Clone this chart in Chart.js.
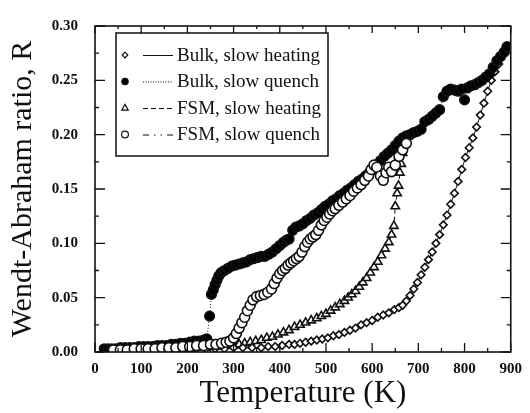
<!DOCTYPE html>
<html>
<head>
<meta charset="utf-8">
<script src="https://cdn.jsdelivr.net/npm/chart.js@4/dist/chart.umd.min.js"></script>
<style>
  html, body { margin: 0; padding: 0; background: #fff; }
</style>
</head>
<body>
<canvas id="grafico" width="530" height="413"></canvas>
<script>
// Bulk, slow heating (open diamonds, solid line)
const bulkHeatT = [60, 80, 100, 120, 140, 160, 180, 200, 220, 240, 260, 280, 300, 320, 340, 360, 375, 390, 405, 420, 432, 444, 456, 468, 480, 492, 504, 516, 528, 540, 552, 564, 576, 588, 600, 612, 624, 636, 648, 658, 666, 674, 682, 690, 698, 706, 714, 722, 730, 738, 746, 754, 762, 770, 778, 786, 794, 802, 810, 818, 826, 834, 842, 850, 858, 866, 874, 882, 890];
const bulkHeatR = [0.002, 0.002, 0.002, 0.002, 0.002, 0.003, 0.003, 0.003, 0.003, 0.003, 0.003, 0.003, 0.004, 0.004, 0.004, 0.004, 0.005, 0.005, 0.006, 0.007, 0.007, 0.008, 0.009, 0.010, 0.011, 0.012, 0.013, 0.015, 0.016, 0.018, 0.020, 0.022, 0.025, 0.027, 0.029, 0.032, 0.034, 0.036, 0.039, 0.041, 0.043, 0.047, 0.052, 0.058, 0.064, 0.071, 0.078, 0.085, 0.092, 0.100, 0.108, 0.117, 0.126, 0.136, 0.146, 0.157, 0.168, 0.179, 0.188, 0.197, 0.207, 0.218, 0.229, 0.240, 0.250, 0.258, 0.265, 0.273, 0.281];

// Bulk, slow quench (filled circles, dotted line)
const bulkQuenchT = [20, 28, 36, 45, 55, 65, 75, 85, 95, 105, 115, 125, 135, 145, 155, 165, 175, 185, 195, 205, 215, 225, 235, 242, 248, 252, 256, 260, 264, 268, 273, 280, 288, 296, 304, 312, 320, 328, 336, 344, 352, 360, 368, 376, 384, 392, 400, 408, 415, 420, 428, 435, 442, 450, 458, 466, 474, 482, 490, 498, 506, 514, 522, 530, 538, 546, 554, 562, 570, 578, 586, 594, 602, 610, 618, 626, 634, 642, 650, 658, 666, 674, 682, 690, 698, 706, 714, 722, 730, 738, 746, 754, 762, 770, 778, 786, 794, 800, 806, 814, 822, 830, 838, 846, 854, 862, 870, 878, 886, 892];
const bulkQuenchR = [0.003, 0.003, 0.003, 0.003, 0.004, 0.004, 0.004, 0.004, 0.005, 0.005, 0.005, 0.005, 0.006, 0.006, 0.006, 0.007, 0.007, 0.008, 0.008, 0.009, 0.010, 0.010, 0.011, 0.012, 0.033, 0.053, 0.057, 0.062, 0.066, 0.070, 0.073, 0.075, 0.077, 0.079, 0.080, 0.081, 0.082, 0.083, 0.085, 0.086, 0.087, 0.088, 0.088, 0.090, 0.092, 0.095, 0.098, 0.101, 0.103, 0.104, 0.112, 0.115, 0.116, 0.118, 0.121, 0.123, 0.126, 0.128, 0.131, 0.134, 0.136, 0.139, 0.141, 0.144, 0.146, 0.149, 0.151, 0.154, 0.157, 0.159, 0.162, 0.165, 0.168, 0.172, 0.176, 0.180, 0.183, 0.186, 0.190, 0.194, 0.197, 0.199, 0.200, 0.202, 0.203, 0.205, 0.212, 0.214, 0.217, 0.220, 0.223, 0.235, 0.240, 0.242, 0.241, 0.240, 0.242, 0.232, 0.243, 0.245, 0.246, 0.248, 0.250, 0.253, 0.256, 0.262, 0.268, 0.272, 0.276, 0.281];

// FSM, slow heating (open triangles, dashed line)
const fsmHeatT = [150, 165, 180, 195, 210, 225, 240, 255, 270, 285, 300, 312, 324, 336, 348, 360, 372, 384, 396, 408, 420, 432, 444, 456, 468, 480, 490, 500, 510, 520, 530, 540, 548, 556, 564, 572, 580, 588, 596, 604, 612, 620, 628, 636, 642, 647, 650, 654, 657, 660, 663, 666];
const fsmHeatR = [0.002, 0.002, 0.003, 0.003, 0.003, 0.004, 0.004, 0.005, 0.005, 0.006, 0.006, 0.007, 0.008, 0.009, 0.010, 0.011, 0.013, 0.014, 0.016, 0.018, 0.020, 0.023, 0.025, 0.027, 0.029, 0.031, 0.033, 0.035, 0.038, 0.041, 0.044, 0.047, 0.050, 0.053, 0.056, 0.060, 0.064, 0.068, 0.073, 0.078, 0.083, 0.089, 0.095, 0.101, 0.108, 0.116, 0.134, 0.146, 0.153, 0.165, 0.173, 0.183];

// FSM, slow quench (open circles, dash-dot line)
const fsmQuenchT = [40, 55, 70, 85, 100, 115, 130, 145, 160, 175, 190, 205, 220, 235, 250, 262, 274, 284, 292, 300, 306, 312, 318, 324, 330, 336, 342, 350, 358, 366, 374, 382, 388, 394, 400, 406, 412, 418, 424, 430, 436, 442, 448, 454, 460, 466, 472, 478, 484, 490, 496, 502, 508, 514, 520, 528, 536, 544, 552, 560, 568, 576, 584, 592, 598, 604, 610, 618, 624, 630, 636, 642, 650, 658, 666, 674];
const fsmQuenchR = [0.002, 0.002, 0.002, 0.003, 0.003, 0.003, 0.003, 0.004, 0.004, 0.004, 0.005, 0.005, 0.006, 0.006, 0.007, 0.007, 0.008, 0.009, 0.010, 0.013, 0.017, 0.022, 0.027, 0.032, 0.038, 0.043, 0.048, 0.051, 0.052, 0.053, 0.055, 0.058, 0.063, 0.068, 0.072, 0.075, 0.077, 0.080, 0.082, 0.084, 0.086, 0.088, 0.092, 0.097, 0.101, 0.104, 0.106, 0.108, 0.112, 0.117, 0.121, 0.124, 0.127, 0.130, 0.132, 0.135, 0.138, 0.141, 0.144, 0.148, 0.151, 0.154, 0.158, 0.162, 0.168, 0.172, 0.170, 0.162, 0.158, 0.165, 0.170, 0.166, 0.172, 0.180, 0.186, 0.192];

const rotulos = ["Bulk, slow heating", "Bulk, slow quench", "FSM, slow heating", "FSM, slow quench"];
const eixoX = { min: 0, max: 900, passo: 100 };
const eixoY = { min: 0, max: 0.30, passo: 0.05 };

const serif = "'Liberation Serif', 'DejaVu Serif', serif";

function pares(ts, rs) {
    return ts.map((t, i) => ({ x: t, y: rs[i] }));
}

// ticks para dentro nos 4 lados + moldura
const ticksDentro = {
    id: "ticksDentro",
    afterDatasetsDraw(chart) {
        const { ctx, chartArea: a, scales: { x, y } } = chart;
        ctx.save();
        ctx.strokeStyle = "#111";
        ctx.lineWidth = 1.3;
        for (let i = 0; i <= 18; i++) {
            const px = x.getPixelForValue(i * 50);
            const len = i % 2 === 0 ? 9 : 4;
            ctx.beginPath();
            ctx.moveTo(px, a.bottom); ctx.lineTo(px, a.bottom - len);
            ctx.moveTo(px, a.top); ctx.lineTo(px, a.top + (i % 2 === 0 ? 7 : 3));
            ctx.stroke();
        }
        for (let i = 0; i <= 12; i++) {
            const py = y.getPixelForValue(i * 0.025);
            const len = i % 2 === 0 ? 10 : 4;
            ctx.beginPath();
            ctx.moveTo(a.left, py); ctx.lineTo(a.left + len, py);
            ctx.moveTo(a.right, py); ctx.lineTo(a.right - len, py);
            ctx.stroke();
        }
        ctx.lineWidth = 1.6;
        ctx.strokeRect(a.left, a.top, a.right - a.left, a.bottom - a.top);
        ctx.restore();
    }
};

function desenharMarcador(ctx, estilo, cx, cy, r, cheio) {
    ctx.beginPath();
    if (estilo === "circle") {
        ctx.arc(cx, cy, r, 0, Math.PI * 2);
    } else if (estilo === "rectRot") {
        ctx.moveTo(cx, cy - r); ctx.lineTo(cx + r, cy); ctx.lineTo(cx, cy + r); ctx.lineTo(cx - r, cy); ctx.closePath();
    } else if (estilo === "triangle") {
        ctx.moveTo(cx, cy - r); ctx.lineTo(cx + r * 0.9, cy + r * 0.6); ctx.lineTo(cx - r * 0.9, cy + r * 0.6); ctx.closePath();
    }
    ctx.fillStyle = cheio ? "#000" : "#fff";
    ctx.fill();
    ctx.stroke();
}

// legenda desenhada na mão (marcador + amostra de linha + texto)
const legendaCaixa = {
    id: "legendaCaixa",
    afterDatasetsDraw(chart) {
        const { ctx } = chart;
        const box = { x: 116, y: 33, w: 212, h: 123 };
        ctx.save();
        ctx.fillStyle = "#fff";
        ctx.fillRect(box.x, box.y, box.w, box.h);
        ctx.strokeStyle = "#111";
        ctx.lineWidth = 1.5;
        ctx.strokeRect(box.x, box.y, box.w, box.h);
        const linhasY = [55, 81.5, 108, 134.5];
        const raios = [2.8, 3.2, 3.6, 3.4];
        chart.data.datasets.forEach((ds) => {
            const k = ds.legendaIdx;
            const ly = linhasY[k];
            ctx.lineWidth = 1.2;
            ctx.setLineDash([]);
            desenharMarcador(ctx, ds.pointStyle, 125, ly, raios[k], ds.pointBackgroundColor === "#000");
            ctx.lineWidth = 1;
            ctx.setLineDash(ds.legendaDash);
            ctx.beginPath();
            ctx.moveTo(143, ly + 0.5); ctx.lineTo(173, ly + 0.5);
            ctx.stroke();
            ctx.setLineDash([]);
            ctx.fillStyle = "#111";
            ctx.font = "19px " + serif;
            ctx.textBaseline = "middle";
            ctx.fillText(ds.label, 177, ly + 1);
        });
        ctx.restore();
    }
};

const estilos = [
    { t: bulkHeatT, r: bulkHeatR, ponto: "rectRot", raio: 3.8, cheio: false, dash: [], legDash: [], ordem: 3 },
    { t: bulkQuenchT, r: bulkQuenchR, ponto: "circle", raio: 4.8, cheio: true, dash: [1, 2], legDash: [1, 1.5], ordem: 2 },
    { t: fsmHeatT, r: fsmHeatR, ponto: "triangle", raio: 4.8, cheio: false, dash: [4, 3], legDash: [5, 3], ordem: 4 },
    { t: fsmQuenchT, r: fsmQuenchR, ponto: "circle", raio: 5, cheio: false, dash: [6, 3, 1, 3], legDash: [6, 5, 1.5, 5, 1.5, 5], ordem: 1 },
];

const datasets = estilos.map((s, i) => ({
    label: rotulos[i],
    legendaIdx: i,
    legendaDash: s.legDash,
    data: pares(s.t, s.r),
    showLine: true,
    borderColor: "#111",
    borderWidth: 1,
    borderDash: s.dash,
    pointStyle: s.ponto,
    pointRadius: s.raio,
    pointBorderWidth: 1.6,
    pointBorderColor: "#111",
    pointBackgroundColor: s.cheio ? "#000" : "#fff",
    order: s.ordem,
}));

const ctx = document.getElementById("grafico").getContext("2d");
new Chart(ctx, {
    type: "scatter",
    data: { datasets },
    options: {
        responsive: false,
        animation: false,
        devicePixelRatio: 1,
        layout: { padding: { left: 0, right: 13, top: 13, bottom: 0 } },
        plugins: { legend: { display: false }, tooltip: { enabled: false } },
        scales: {
            x: {
                type: "linear",
                min: eixoX.min, max: eixoX.max,
                grid: { display: false, drawTicks: false },
                border: { display: false },
                ticks: {
                    stepSize: eixoX.passo,
                    padding: 8,
                    color: "#111",
                    font: { family: serif, size: 15, weight: "bold" },
                    maxRotation: 0,
                },
                title: {
                    display: true,
                    text: "Temperature (K)",
                    color: "#111",
                    font: { family: serif, size: 31 },
                    padding: { top: 0, bottom: 1 },
                },
                afterFit(scale) { scale.height = 61; },
            },
            y: {
                type: "linear",
                min: eixoY.min, max: eixoY.max,
                grid: { display: false, drawTicks: false },
                border: { display: false },
                ticks: {
                    stepSize: eixoY.passo,
                    padding: 17,
                    color: "#111",
                    font: { family: serif, size: 15, weight: "bold" },
                    callback: (v) => v.toFixed(2),
                },
                title: {
                    display: true,
                    text: "Wendt-Abraham ratio, R",
                    color: "#111",
                    font: { family: serif, size: 30 },
                    padding: { top: 5, bottom: 0 },
                },
                afterFit(scale) { scale.width = 95; },
            },
        },
    },
    plugins: [ticksDentro, legendaCaixa],
});
</script>
</body>
</html>
